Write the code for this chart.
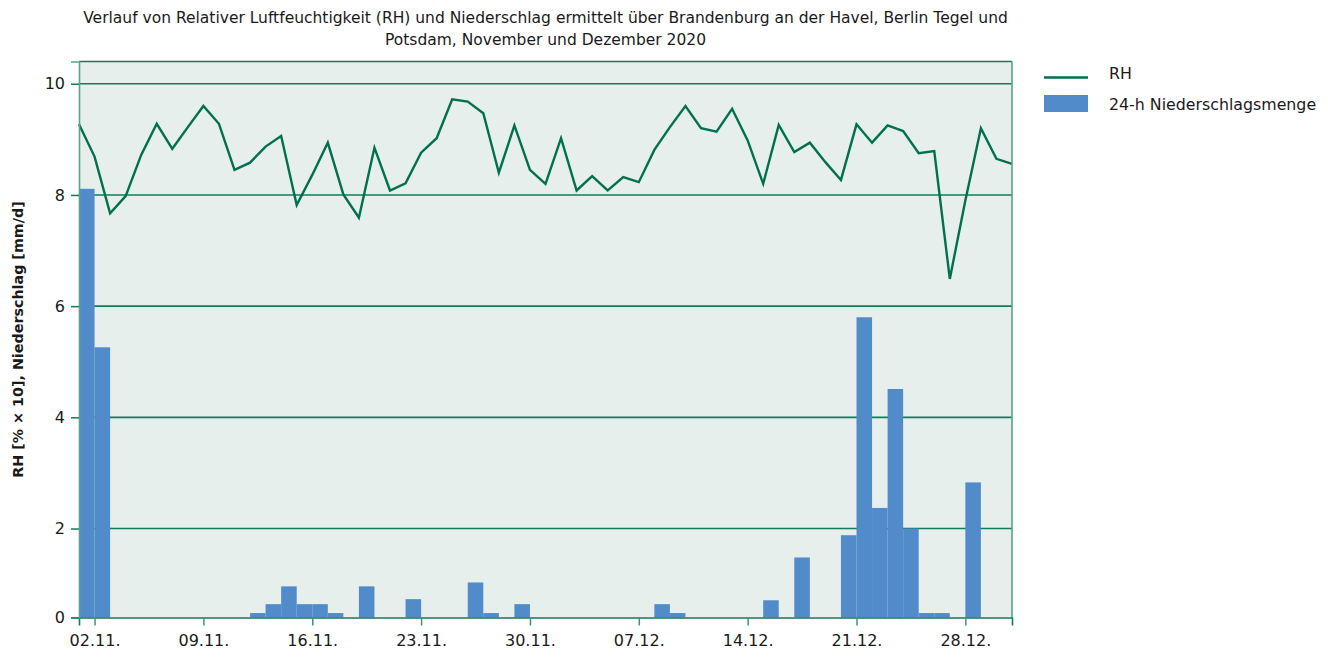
<!DOCTYPE html>
<html lang="de">
  <head>
    <meta charset="UTF-8" />
    <title>RH und Niederschlag</title>
    <script src="https://d3js.org/d3.v7.min.js"></script>
    <style>
      body {
        margin: 0;
        padding: 0;
        background: #fff;
        font-family: "DejaVu Sans", sans-serif;
      }
      .title {
        font-size: 15.5px;
        fill: #1a1a1a;
        text-anchor: middle;
      }
      .tick text {
        font-family: "DejaVu Sans", sans-serif;
        font-size: 16px;
        fill: #1a1a1a;
      }
      .legend text {
        font-size: 15.8px;
        fill: #1a1a1a;
      }
    </style>
  </head>
  <body>
    <div id="chart"></div>
    <script>
      // 01.11.2020 .. 31.12.2020, one value per day
      const startDate = new Date(2020, 10, 1);
      const endDate = new Date(2020, 11, 31);

      // relative humidity, % / 10
      const rhValues = [
        9.27, 8.69, 7.67, 7.98, 8.72, 9.28, 8.83, 9.22, 9.6, 9.28,
        8.45, 8.58, 8.87, 9.06, 7.82, 8.36, 8.94, 8.01, 7.59, 8.85,
        8.08, 8.21, 8.76, 9.02, 9.72, 9.68, 9.47, 8.4, 9.25, 8.45,
        8.2, 9.02, 8.08, 8.34, 8.08, 8.32, 8.23, 8.81, 9.22, 9.6,
        9.2, 9.14, 9.55, 8.98, 8.2, 9.26, 8.77, 8.94, 8.59, 8.27,
        9.27, 8.94, 9.25, 9.15, 8.75, 8.79, 6.49, 7.9, 9.2, 8.65,
        8.56,
      ];

      // 24-h precipitation, mm/d (one bar per day, 01.11. .. 30.12.)
      const precipValues = [
        8.11, 5.26, 0, 0, 0, 0, 0, 0, 0, 0,
        0, 0.48, 0.64, 0.96, 0.64, 0.64, 0.48, 0, 0.96, 0,
        0, 0.73, 0, 0, 0, 1.03, 0.48, 0, 0.64, 0,
        0, 0, 0, 0, 0, 0, 0, 0.64, 0.48, 0,
        0, 0, 0, 0, 0.71, 0, 1.48, 0, 0, 1.88,
        5.8, 2.37, 4.51, 2.0, 0.48, 0.48, 0, 2.83, 0, 0,
      ];

      const xTickLabels = [
        "02.11.", "09.11.", "16.11.", "23.11.", "30.11.",
        "07.12.", "14.12.", "21.12.", "28.12.",
      ];
      const yTickValues = [0.4, 2, 4, 6, 8, 10];
      const yTickLabels = ["0", "2", "4", "6", "8", "10"];

      const titleLines = [
        "Verlauf von Relativer Luftfeuchtigkeit (RH) und Niederschlag ermittelt über Brandenburg an der Havel, Berlin Tegel und",
        "Potsdam, November und Dezember 2020",
      ];
      const yLabel = "RH [% × 10], Niederschlag [mm/d]";
      const legendLabels = ["RH", "24-h Niederschlagsmenge"];

      const width = 1328;
      const height = 657;
      const margin = { top: 61.5, right: 316, bottom: 39.5, left: 79 };

      const lineColor = "#00704f";
      const gridColor = "#137a5b";
      const barColor = "#518bca";
      const bgColor = "#e7efec";

      const days = d3.timeDay.range(startDate, d3.timeDay.offset(endDate, 1));

      const svg = d3
        .select("#chart")
        .append("svg")
        .attr("width", width)
        .attr("height", height);

      const x = d3
        .scaleTime()
        .domain([startDate, endDate])
        .range([margin.left, width - margin.right]);

      const y = d3
        .scaleLinear()
        .domain([0.4, 10.4])
        .range([height - margin.bottom, margin.top]);

      // plot background
      svg
        .append("rect")
        .attr("x", margin.left)
        .attr("y", margin.top)
        .attr("width", x.range()[1] - x.range()[0])
        .attr("height", y.range()[0] - y.range()[1])
        .attr("fill", bgColor);

      // grid lines
      svg
        .append("g")
        .selectAll("line")
        .data(yTickValues.filter((d) => d >= 2))
        .join("line")
        .attr("x1", margin.left)
        .attr("x2", width - margin.right)
        .attr("y1", (d) => y(d))
        .attr("y2", (d) => y(d))
        .attr("stroke", gridColor)
        .attr("stroke-width", 1.6);

      // bars
      svg
        .append("g")
        .selectAll("rect")
        .data(precipValues)
        .join("rect")
        .attr("x", (d, i) => x(days[i]))
        .attr("width", (d, i) => x(days[i + 1]) - x(days[i]))
        .attr("y", (d) => y(Math.max(d, 0.4)))
        .attr("height", (d) => y(0.4) - y(Math.max(d, 0.4)))
        .attr("fill", barColor);

      // RH line
      const line = d3
        .line()
        .x((d, i) => x(days[i]))
        .y((d) => y(d));

      svg
        .append("path")
        .datum(rhValues)
        .attr("d", line)
        .attr("fill", "none")
        .attr("stroke", lineColor)
        .attr("stroke-width", 2.4)
        .attr("stroke-linejoin", "miter");

      // frame
      const x0 = margin.left;
      const x1 = width - margin.right;
      svg
        .append("line")
        .attr("x1", x0)
        .attr("x2", x1)
        .attr("y1", margin.top)
        .attr("y2", margin.top)
        .attr("stroke", gridColor)
        .attr("stroke-width", 1.6);
      svg
        .append("line")
        .attr("x1", x1)
        .attr("x2", x1)
        .attr("y1", margin.top)
        .attr("y2", height - margin.bottom)
        .attr("stroke", "#5aa387")
        .attr("stroke-width", 1.6);

      // x axis
      const xTicks = xTickLabels.map((s) => {
        const [dd, mm] = s.split(".");
        return new Date(2020, +mm - 1, +dd);
      });
      const xAxis = svg
        .append("g")
        .attr("transform", `translate(0, ${height - margin.bottom})`)
        .call(
          d3
            .axisBottom(x)
            .tickValues(xTicks)
            .tickSize(8)
            .tickPadding(9)
            .tickFormat((d, i) => xTickLabels[i])
        );
      xAxis.select(".domain").attr("stroke", gridColor).attr("stroke-width", 1.6);
      xAxis.selectAll(".tick line").attr("stroke", "#3f9677").attr("stroke-width", 1.5);

      // y axis
      const yAxis = svg
        .append("g")
        .attr("transform", `translate(${margin.left}, 0)`)
        .call(
          d3
            .axisLeft(y)
            .tickValues(yTickValues)
            .tickSize(8)
            .tickPadding(6)
            .tickFormat((d, i) => yTickLabels[i])
        );
      yAxis.select(".domain").attr("stroke", "#5aa387").attr("stroke-width", 1.6);
      yAxis.selectAll(".tick line").attr("stroke", gridColor).attr("stroke-width", 1.5);

      // title
      svg
        .append("g")
        .selectAll("text")
        .data(titleLines)
        .join("text")
        .attr("class", "title")
        .attr("x", (x0 + x1) / 2)
        .attr("y", (d, i) => 23 + i * 22)
        .text((d) => d);

      // y axis label
      svg
        .append("text")
        .attr("transform", `translate(23, ${(margin.top + height - margin.bottom) / 2}) rotate(-90)`)
        .attr("text-anchor", "middle")
        .style("font-size", "14.3px")
        .style("font-weight", "bold")
        .style("fill", "#1a1a1a")
        .text(yLabel);

      // legend
      const legend = svg
        .append("g")
        .attr("class", "legend")
        .attr("transform", "translate(1044, 0)");

      legend
        .append("line")
        .attr("x1", 0)
        .attr("x2", 44)
        .attr("y1", 77.5)
        .attr("y2", 77.5)
        .attr("stroke", lineColor)
        .attr("stroke-width", 2.4);
      legend
        .append("rect")
        .attr("x", 0)
        .attr("y", 95)
        .attr("width", 44)
        .attr("height", 17)
        .attr("fill", barColor);

      legend
        .selectAll("text")
        .data(legendLabels)
        .join("text")
        .attr("x", 65)
        .attr("y", (d, i) => 73 + i * 31)
        .attr("dy", "0.35em")
        .text((d) => d);
    </script>
  </body>
</html>
